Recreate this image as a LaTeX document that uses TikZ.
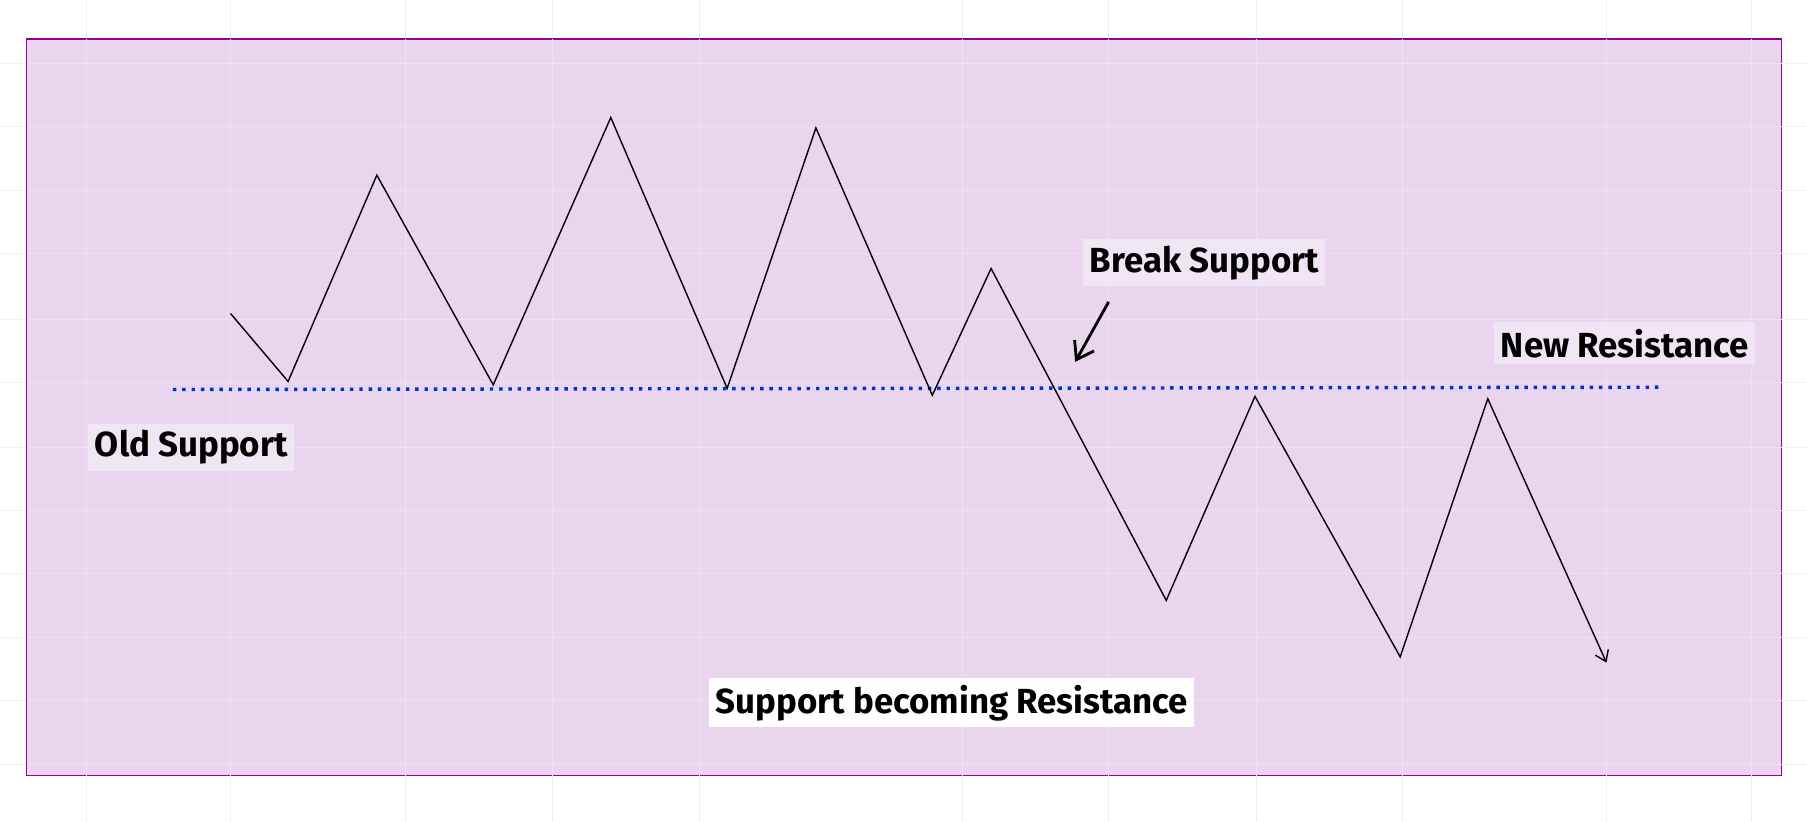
\documentclass[tikz,border=0pt]{standalone}
\usepackage{fontspec}
\setmainfont{Fira Sans}
\usetikzlibrary{arrows.meta}
\begin{document}
\begin{tikzpicture}[x=0.01cm,y=-0.01cm,
 lbl/.style={fill=#1,font=\fontsize{8.6}{10}\selectfont\bfseries,inner sep=1.6pt},
 lbl/.default={white}]
\definecolor{bgp}{HTML}{E9D5EE}
\definecolor{lblc}{HTML}{F0E5F3}
\useasboundingbox (0,0) rectangle (1568,713);
\fill[white] (0,0) rectangle (1568,713);
\foreach \x in {75,200,352,479,607,835,962,1090,1217,1394,1520} \draw[gray!12,very thin] (\x,0)--(\x,713);
\foreach \y in {55,110,165,220,277,332,388,443,498,553,608,663} \draw[gray!12,very thin] (0,\y)--(1568,\y);
\draw[fill=bgp,draw=violet!80!magenta,thin] (23,34) rectangle (1546,673);
\foreach \x in {75,200,352,479,607,835,962,1090,1217,1394,1520} \draw[violet!12,very thin] (\x,34)--(\x,673);
\foreach \y in {55,110,165,220,277,332,388,443,498,553,608,663} \draw[violet!12,very thin] (23,\y)--(1546,\y);
\coordinate (l1) at (150,338); \coordinate (l2) at (1443,336);
\draw[blue!75!cyan!80!black,line width=0.85pt,dash pattern=on 0.85pt off 1.45pt] (l1)--(l2);
\coordinate (s) at (200,272);
\coordinate (e) at (1394,575);
\draw[-{Straight Barb[length=2.5pt,width=3.5pt]},line width=0.35pt] (s)--(250,331)--(327,152)--(428,334)--(530,102)--(631,337)--(708,111)--(809,343)--(860,233)--(1012,521)--(1089,344)--(1215,570)--(1291,346)--(e);
\coordinate (b1) at (962,262); \coordinate (b2) at (933,314);
\draw[line width=0.7pt,-{Straight Barb[length=4pt,width=5.5pt]}] (b1)--(b2);
\node[lbl=lblc] (bs) at (1045,228) {Break Support};
\node[lbl=lblc] (nr) at (1410,298) {New Resistance};
\node[lbl=lblc] (os) at (166,388) {Old Support};
\node[lbl=white] (sb) at (826,610) {Support becoming Resistance};
\end{tikzpicture}
\end{document}
